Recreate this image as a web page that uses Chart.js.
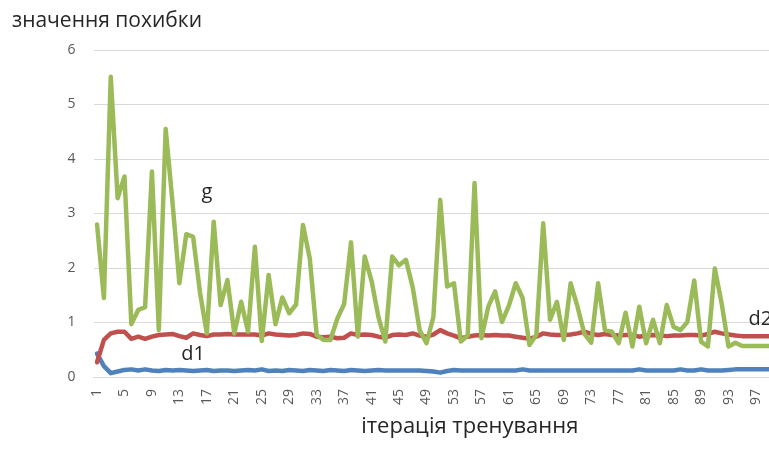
<!DOCTYPE html>
<html>
<head>
<meta charset="utf-8">
<script src="https://cdn.jsdelivr.net/npm/chart.js@4.4.1/dist/chart.umd.min.js"></script>
<style>
  html, body { margin: 0; padding: 0; background: #fff; overflow: hidden; }
  #wrap { width: 780px; height: 450px; }
</style>
</head>
<body>
<div id="wrap"><canvas id="c" width="780" height="450"></canvas></div>
<script>
// ---- data ----
const iterations = Array.from({length: 100}, (_, i) => String(i + 1));

const gValues = [
  2.8, 1.45, 5.51, 3.28, 3.68, 0.97, 1.23, 1.28, 3.77, 0.86,
  4.55, 3.2, 1.72, 2.62, 2.57, 1.55, 0.8, 2.85, 1.32, 1.78,
  0.8, 1.38, 0.83, 2.39, 0.66, 1.87, 0.97, 1.46, 1.17, 1.33,
  2.79, 2.17, 0.77, 0.68, 0.68, 1.07, 1.34, 2.47, 0.74, 2.21,
  1.76, 1.1, 0.65, 2.21, 2.05, 2.15, 1.64, 0.86, 0.62, 1.1,
  3.25, 1.66, 1.72, 0.65, 0.76, 3.56, 0.71, 1.29, 1.57, 1.01,
  1.31, 1.72, 1.45, 0.59, 0.77, 2.82, 1.05, 1.38, 0.68, 1.72,
  1.29, 0.79, 0.63, 1.72, 0.86, 0.83, 0.62, 1.18, 0.56, 1.29,
  0.62, 1.05, 0.62, 1.32, 0.92, 0.86, 1.01, 1.77, 0.65, 0.56,
  1.99, 1.35, 0.56, 0.63, 0.57, 0.57, 0.57, 0.57, 0.57, 0.57
];

const d2Values = [
  0.27, 0.68, 0.8, 0.83, 0.83, 0.7, 0.74, 0.7, 0.74, 0.77,
  0.78, 0.79, 0.75, 0.72, 0.8, 0.77, 0.75, 0.78, 0.78, 0.79,
  0.78, 0.78, 0.78, 0.78, 0.76, 0.8, 0.78, 0.77, 0.76, 0.77,
  0.8, 0.79, 0.74, 0.73, 0.74, 0.71, 0.72, 0.8, 0.77, 0.78,
  0.77, 0.74, 0.72, 0.77, 0.78, 0.77, 0.8, 0.76, 0.74, 0.78,
  0.86, 0.8, 0.76, 0.71, 0.74, 0.76, 0.77, 0.76, 0.77, 0.76,
  0.76, 0.74, 0.72, 0.7, 0.74, 0.8, 0.78, 0.77, 0.77, 0.78,
  0.8, 0.83, 0.79, 0.77, 0.79, 0.77, 0.76, 0.77, 0.77, 0.74,
  0.76, 0.77, 0.76, 0.75, 0.76, 0.76, 0.77, 0.77, 0.76, 0.79,
  0.83, 0.8, 0.78, 0.76, 0.75, 0.75, 0.75, 0.75, 0.75, 0.75
];

const d1Values = [
  0.43, 0.2, 0.07, 0.1, 0.13, 0.14, 0.12, 0.14, 0.12, 0.11,
  0.13, 0.12, 0.13, 0.12, 0.11, 0.12, 0.13, 0.11, 0.12, 0.12,
  0.11, 0.12, 0.13, 0.12, 0.14, 0.11, 0.12, 0.11, 0.13, 0.12,
  0.11, 0.13, 0.12, 0.11, 0.13, 0.12, 0.11, 0.13, 0.12, 0.11,
  0.12, 0.13, 0.12, 0.12, 0.12, 0.12, 0.12, 0.12, 0.11, 0.1,
  0.08, 0.11, 0.13, 0.12, 0.12, 0.12, 0.12, 0.12, 0.12, 0.12,
  0.12, 0.12, 0.14, 0.12, 0.12, 0.12, 0.12, 0.12, 0.12, 0.12,
  0.12, 0.12, 0.12, 0.12, 0.12, 0.12, 0.12, 0.12, 0.12, 0.14,
  0.12, 0.12, 0.12, 0.12, 0.12, 0.14, 0.12, 0.12, 0.14, 0.12,
  0.12, 0.12, 0.13, 0.14, 0.14, 0.14, 0.14, 0.14, 0.14, 0.14
];

const yTicks = [0, 1, 2, 3, 4, 5, 6];
const seriesNames = ['d1', 'd2', 'g'];
const yTitle = 'значення похибки';
const xTitle = 'ітерація тренування';

// ---- series labels + x-axis title plugin ----
const seriesLabels = {
  id: 'seriesLabels',
  afterDatasetsDraw(chart) {
    const ctx = chart.ctx;
    const xs = chart.scales.x, ys = chart.scales.y;
    ctx.save();
    ctx.font = '20px "Open Sans", sans-serif';
    ctx.fillStyle = '#262626';
    ctx.textBaseline = 'middle';
    ctx.textAlign = 'center';
    ctx.fillText(seriesNames[2], xs.getPixelForValue(16), ys.getPixelForValue(3.38));
    ctx.fillText(seriesNames[0], xs.getPixelForValue(14), ys.getPixelForValue(0.42));
    ctx.textAlign = 'left';
    ctx.fillText(seriesNames[1], xs.getPixelForValue(94.9), ys.getPixelForValue(1.05));
    // x-axis title (plot area of original extends past the visible crop)
    ctx.font = '22px "Open Sans", sans-serif';
    ctx.textAlign = 'center';
    ctx.fillText(xTitle, xs.getPixelForValue(54.3), 427);
    ctx.restore();
  }
};

new Chart(document.getElementById('c'), {
  type: 'line',
  data: {
    labels: iterations,
    datasets: [
      { label: seriesNames[2], data: gValues, borderColor: '#9BBB59', borderWidth: 4.5, pointRadius: 0, tension: 0, order: 0, borderJoinStyle: 'round', borderCapStyle: 'round' },
      { label: seriesNames[1], data: d2Values, borderColor: '#C0504D', borderWidth: 4.5, pointRadius: 0, tension: 0, order: 1, borderJoinStyle: 'round', borderCapStyle: 'round' },
      { label: seriesNames[0], data: d1Values, borderColor: '#4F81BD', borderWidth: 4.5, pointRadius: 0, tension: 0, order: 2, borderJoinStyle: 'round', borderCapStyle: 'round' }
    ]
  },
  options: {
    responsive: false,
    animation: false,
    layout: { padding: { left: 12, right: 0, top: 0, bottom: 0 } },
    plugins: {
      legend: { display: false },
      tooltip: { enabled: false },
      title: {
        display: true,
        text: yTitle,
        align: 'start',
        color: '#262626',
        font: { family: '"Open Sans", sans-serif', size: 21, weight: 'normal', lineHeight: 1.2 },
        padding: { top: 8, bottom: 16.8 }
      }
    },
    scales: {
      x: {
        offset: true,
        grid: { display: false, drawTicks: false },
        border: { display: true, color: '#D9D9D9', width: 1 },
        ticks: {
          autoSkip: false,
          minRotation: 90,
          maxRotation: 90,
          padding: 12,
          color: '#595959',
          font: { family: '"Open Sans", sans-serif', size: 14 },
          callback: function(v, i) { return i % 4 === 0 ? iterations[i] : ''; }
        },
        afterFit(scale) {
          scale.height = 73;
          scale.paddingLeft = 0;
          scale.paddingRight = 0;
        }
      },
      y: {
        min: 0,
        max: 6,
        afterBuildTicks(scale) { scale.ticks = yTicks.map(v => ({ value: v })); },
        grid: { color: '#D9D9D9', lineWidth: 1, drawTicks: false },
        border: { display: false },
        ticks: {
          padding: 18,
          color: '#595959',
          font: { family: '"Open Sans", sans-serif', size: 14 }
        },
        afterFit(scale) { scale.width = 81.6; }
      }
    }
  },
  plugins: [seriesLabels]
});
</script>
</body>
</html>
